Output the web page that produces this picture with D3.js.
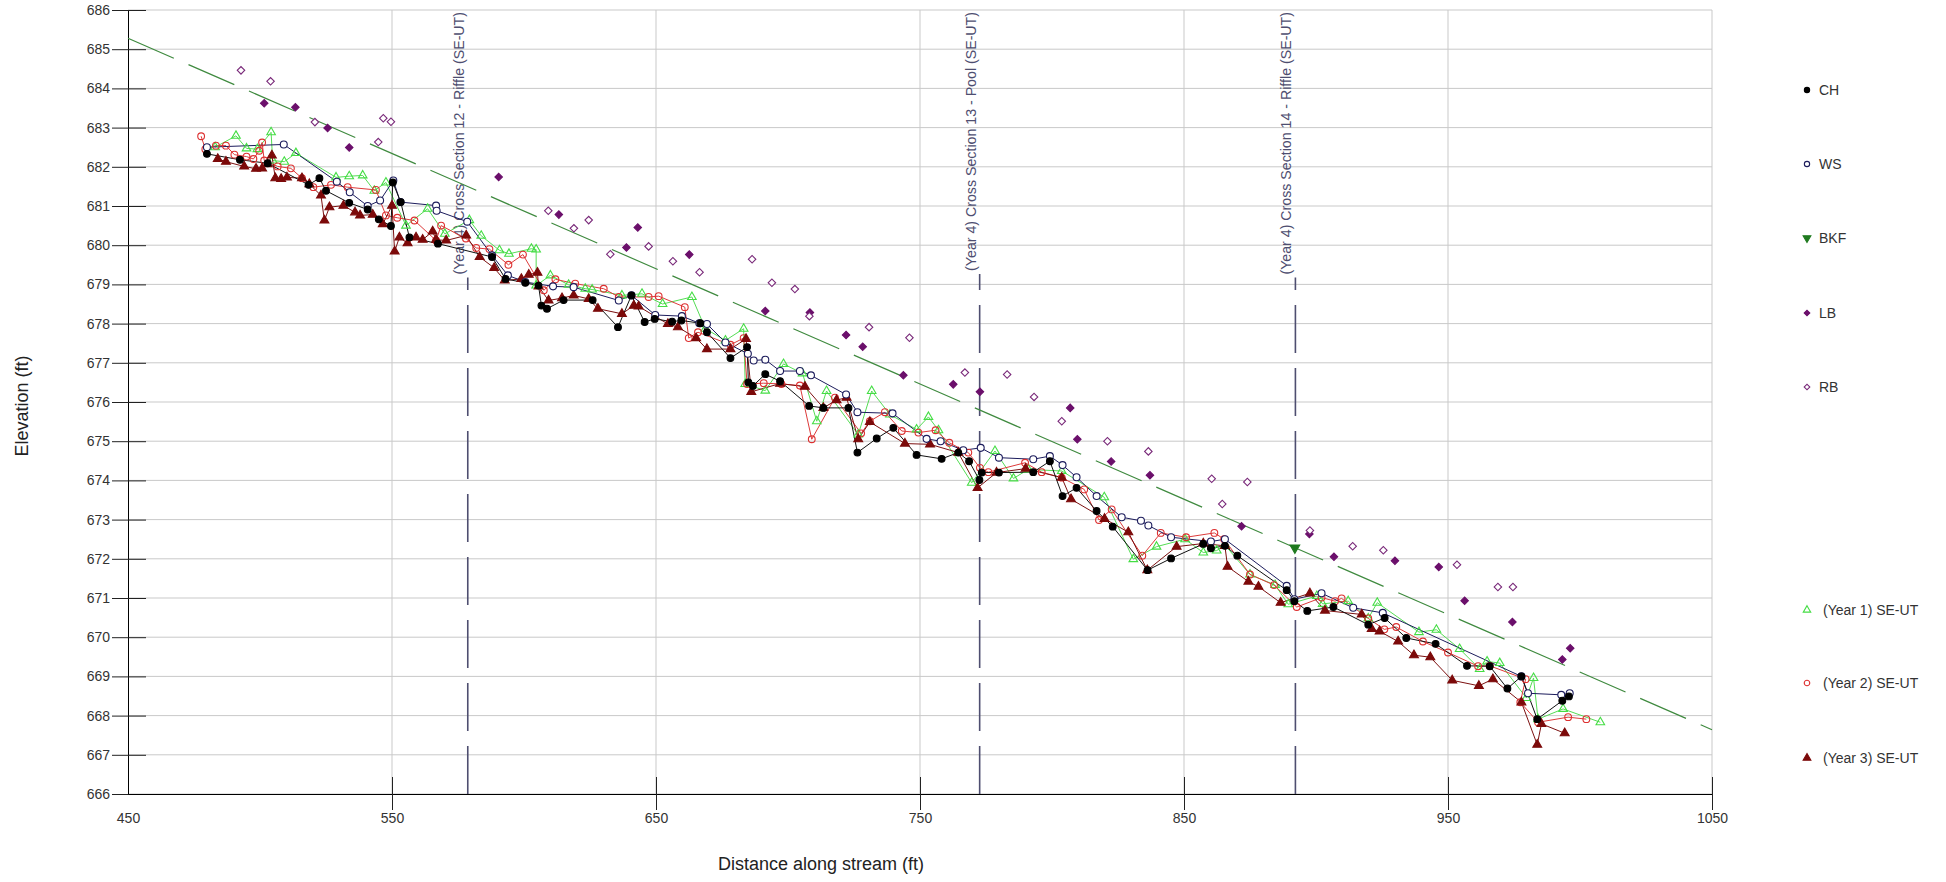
<!DOCTYPE html>
<html>
<head>
<meta charset="utf-8">
<script src="https://cdnjs.cloudflare.com/ajax/libs/d3/7.8.5/d3.min.js"></script>
<style>
body { margin: 0; background: #fff; }
svg { display: block; font-family: "Liberation Sans", Arial, sans-serif; }
</style>
</head>
<body>
<svg id="chart" width="1946" height="882"></svg>
<script>
// station (ft) / elevation (ft) pairs
var ch = [[479.9,682.33],[492.4,682.18],[502.9,682.09],[518.4,681.54],[522.5,681.71],[525,681.39],[533.8,681.08],[540.8,680.91],[545,680.66],[549.6,680.49],[550.3,681.6],[553.3,681.1],[556.6,680.2],[567.4,680.04],[587.9,679.7],[593,679.14],[600.5,679.04],[605.5,678.97],[606.6,678.46],[608.7,678.38],[615,678.6],[626,678.6],[635.6,677.91],[640.7,678.72],[645.7,678.04],[649.5,678.12],[656.1,678.05],[659.6,678.08],[666.8,678.01],[669.3,677.78],[678.2,677.12],[684.5,677.4],[685,676.5],[686.7,676.41],[691.4,676.71],[697,676.53],[708,675.9],[713.4,675.85],[722.9,675.85],[726.3,674.71],[733.6,675.07],[739.9,675.34],[748.7,674.65],[758.2,674.55],[764.5,674.71],[768.6,674.49],[772.5,674.01],[773.4,674.2],[779.9,674.2],[792.9,674.21],[799.2,674.49],[804,673.6],[809.3,673.81],[816.9,673.22],[823,672.82],[836.2,671.71],[845.1,672.01],[857.3,672.38],[860.2,672.27],[865.5,672.33],[870.2,672.08],[888.9,671.2],[891.8,670.92],[896.7,670.67],[906.6,670.77],[919.8,670.32],[926,670.49],[934.2,669.98],[945.3,669.83],[957.2,669.27],[965.8,669.26],[972.5,668.69],[977.8,669.0],[983.8,667.91],[993.3,668.38],[995.8,668.49]];

var ws = [[479.9,682.5],[509,682.57],[529.1,681.62],[534,681.35],[540.8,681.0],[545.5,681.14],[550.5,681.65],[553.2,681.1],[566.7,681.01],[566.9,680.88],[578.5,680.6],[587.9,679.74],[593.9,679.23],[600.5,679.06],[611,678.95],[618.8,678.93],[635.9,678.59],[640.7,678.72],[649.7,678.22],[659.8,678.19],[666.4,678.01],[669.3,677.99],[676.3,677.52],[684.8,677.23],[687,677.06],[691.4,677.08],[697,676.79],[704.5,676.79],[708.7,676.68],[722,676.19],[726.3,675.74],[739.6,675.71],[752.5,675.06],[757.8,675.0],[766.4,674.77],[773,674.83],[779.9,674.58],[792.9,674.54],[799.2,674.62],[804,674.39],[809.3,674.08],[816.9,673.6],[826.4,673.06],[833.7,672.97],[836.5,672.85],[845.1,672.55],[860.2,672.44],[865.5,672.5],[888.9,671.31],[891.8,670.97],[902.1,671.12],[914.1,670.75],[925.3,670.62],[977.8,669.0],[980.3,668.57],[992.9,668.53],[996.1,668.57]];

var bkfLine = [[450,685.28],[1050,667.64]];
var bkfPts = [[892,672.28]];

var lb = [[501.6,683.62],[513.4,683.52],[525.6,682.99],[533.8,682.49],[590.4,681.74],[613.2,680.78],[638.8,679.94],[643.1,680.45],[662.6,679.76],[691.4,678.32],[708.3,678.28],[722,677.71],[728.3,677.41],[743.7,676.68],[762.6,676.45],[772.7,676.26],[806.9,675.85],[809.6,675.05],[822.4,674.48],[837.1,674.13],[871.8,672.83],[897.5,672.63],[906.8,672.05],[929.9,671.95],[946.5,671.79],[956.3,670.93],[974.4,670.39],[993.3,669.43],[996.3,669.72]];

var rb = [[492.8,684.46],[504,684.18],[520.8,683.14],[544.8,682.63],[546.7,683.24],[549.6,683.15],[609.2,680.88],[618.9,680.43],[624.5,680.64],[632.7,679.77],[647.2,679.97],[656.4,679.59],[666.5,679.31],[686.4,679.64],[693.9,679.04],[702.6,678.88],[708.1,678.19],[730.7,677.91],[746,677.64],[767,676.75],[783,676.7],[793.2,676.13],[803.7,675.51],[821,675],[836.5,674.74],[860.5,674.04],[864.5,673.4],[874,673.96],[897.7,672.72],[913.9,672.32],[925.5,672.22],[953.4,671.85],[968.9,671.28],[974.6,671.28]];

var year1 = [[483,682.5],[490.9,682.79],[494.9,682.47],[499,682.45],[504.2,682.88],[504.8,682.16],[509.2,682.13],[513.6,682.35],[528.8,681.73],[533.8,681.76],[538.9,681.78],[543.3,681.39],[547.7,681.6],[555.3,680.5],[563.5,680.93],[570,680.29],[579.3,680.64],[583.8,680.24],[590.7,679.87],[594.3,679.78],[602.8,679.91],[604.6,679.89],[604.6,678.97],[610,679.23],[616.9,678.99],[623.2,678.89],[625.8,678.87],[637.1,678.72],[644.7,678.76],[652.5,678.5],[663.6,678.68],[668.7,677.87],[676.3,677.57],[683.2,677.87],[683.8,676.46],[691.4,676.29],[698.3,676.97],[705.5,676.73],[710.9,675.51],[714.6,676.28],[726.6,675.17],[731.7,676.28],[738.6,675.68],[748.7,675.3],[753.2,675.62],[757,675.28],[769.6,673.94],[778.4,674.75],[785.4,674.05],[791,674.28],[803.7,674.24],[819.8,673.57],[830.8,671.99],[839.6,672.31],[850.4,672.5],[857.3,672.16],[862.4,672.21],[865.5,672.35],[875,671.6],[884.5,671.33],[889.5,670.84],[900.3,671.05],[902.5,670.85],[912.2,670.92],[919.8,670.48],[923.2,670.88],[939,670.13],[945.6,670.19],[954.4,669.7],[962,669.19],[964.8,669.38],[969.6,669.34],[979.7,668.45],[982.4,668.96],[984.1,667.91],[993.6,668.17],[1007.7,667.83]];

var year2 = [[477.7,682.78],[479.3,682.45],[483.3,682.54],[487.1,682.54],[490.3,682.31],[494.9,682.26],[497.5,682.2],[499.7,682.41],[500.8,682.62],[501.6,682.16],[506.7,682.01],[511.7,681.96],[515.9,681.71],[520.2,681.48],[526.9,681.54],[533.2,681.48],[543.9,681.41],[547.7,680.76],[552,680.7],[558.5,680.63],[566.7,680.12],[568.6,680.5],[578,680.17],[581.9,679.93],[586.9,679.9],[594.1,679.5],[599.6,679.76],[607.5,678.85],[611.9,679.13],[619.4,679.02],[630.2,678.89],[635.9,678.68],[647.2,678.68],[651,678.7],[660.9,678.42],[662.4,677.63],[665.9,677.78],[678.2,677.46],[683.2,677.63],[684.5,676.46],[690.8,676.48],[697.5,676.46],[704.5,676.42],[709,675.05],[717.8,676.11],[727.7,675.2],[731,675.51],[736.7,675.74],[743.1,675.26],[749.4,675.22],[755.9,675.28],[761.1,674.96],[768.3,674.71],[772.7,674.32],[775.9,674.21],[789.8,674.45],[796.1,674.21],[803.7,674.07],[812.2,673.77],[817.8,672.99],[822.6,673.26],[834.2,672.08],[841.2,672.66],[850.8,672.55],[861.5,672.66],[865.2,672.5],[875,671.6],[884.1,671.33],[892.7,670.77],[902.1,671.01],[907.2,670.92],[909.7,670.99],[919.8,670.48],[925.9,670.2],[930.4,670.26],[940.5,669.89],[950,669.61],[961.4,669.26],[965.8,669.27],[979.4,668.93],[977.4,668.34],[984.1,667.83],[995.5,667.96],[1002.4,667.91]];

var year3 = [[484,682.2],[487.1,682.13],[494,682.01],[498.5,681.95],[500.8,681.96],[502.9,682.07],[504.5,682.29],[505.8,681.71],[508,681.69],[510.2,681.73],[515.9,681.71],[518.7,681.56],[523.1,681.27],[524.4,680.63],[526.3,680.97],[531.6,681.01],[536,680.84],[537.9,680.76],[542.7,680.78],[546.5,680.54],[550,681.01],[551,679.84],[552.8,680.2],[555.9,680.05],[559.1,680.2],[561.6,680.14],[565.4,680.35],[566.7,680.14],[570.5,680.12],[578.1,680.25],[583.2,679.7],[588.7,679.42],[592.7,679.1],[599,679.14],[601.8,679.25],[605.1,679.3],[605.5,678.95],[609.3,678.59],[614.4,678.65],[618.8,678.72],[624.5,678.63],[628,678.38],[637.1,678.25],[641.6,678.46],[643.4,678.44],[654.5,677.99],[658.3,677.91],[665.2,677.63],[669.3,677.35],[678.2,677.35],[684.1,677.61],[686.1,676.26],[697,676.47],[706.4,676.39],[713.4,675.85],[718.4,676.05],[722.2,676.11],[726.6,675.05],[731,675.49],[744.3,674.94],[753.8,674.92],[764.5,674.71],[771.8,673.81],[779,674.2],[790,674.3],[803.7,674.07],[807.2,673.52],[819.9,673.02],[828.9,672.68],[836.1,671.71],[847.2,672.31],[857.3,672.39],[865.5,672.33],[866.5,671.8],[874.4,671.42],[878.2,671.29],[886.6,670.88],[897.7,671.12],[903.4,670.68],[917.3,670.58],[921.1,670.21],[924.1,670.15],[931.1,669.89],[937.1,669.54],[943.3,669.49],[951.6,668.9],[961.7,668.76],[967,668.93],[977.8,668.34],[983.8,667.26],[985.4,667.79],[994.2,667.55]];

var sections = [
	{ x: 578.7, label: "(Year 4) Cross Section 12 - Riffle (SE-UT)" },
	{ x: 772.6, label: "(Year 4) Cross Section 13 - Pool (SE-UT)" },
	{ x: 892.2, label: "(Year 4) Cross Section 14 - Riffle (SE-UT)" }
];

var xTicks = [450, 550, 650, 750, 850, 950, 1050];
var yTicks = d3.range(666, 687);

var margin = { top: 10, right: 234, bottom: 88, left: 128 };
var width = 1946, height = 882;
var svg = d3.select("#chart");

var x = d3.scaleLinear().domain([450, 1050]).range([margin.left, width - margin.right]);
var y = d3.scaleLinear().domain([666, 686]).range([height - margin.bottom, margin.top]);

// grid
svg.append("g").selectAll("line").data(yTicks).enter().append("line")
	.attr("x1", x(450)).attr("x2", x(1050))
	.attr("y1", function(d) { return y(d); }).attr("y2", function(d) { return y(d); })
	.attr("stroke", "#c9c9c9").attr("stroke-width", 1);
svg.append("g").selectAll("line").data(xTicks.slice(1)).enter().append("line")
	.attr("x1", function(d) { return x(d); }).attr("x2", function(d) { return x(d); })
	.attr("y1", y(686)).attr("y2", y(666))
	.attr("stroke", "#c9c9c9").attr("stroke-width", 1);

// axes
var yAxis = svg.append("g")
	.attr("transform", "translate(" + x(450) + ",0)")
	.call(d3.axisLeft(y).tickValues(yTicks).tickFormat(d3.format("d")).tickSize(0));
yAxis.select(".domain").attr("stroke", "#000");
yAxis.selectAll(".tick line").attr("x1", -16).attr("x2", 18).attr("stroke", "#222");
yAxis.selectAll(".tick text").attr("x", -18).attr("font-size", 14).attr("fill", "#333")
	.attr("font-family", "Liberation Sans, Arial, sans-serif");

var xAxis = svg.append("g")
	.attr("transform", "translate(0," + y(666) + ")")
	.call(d3.axisBottom(x).tickValues(xTicks).tickFormat(d3.format("d")).tickSize(0));
xAxis.select(".domain").attr("stroke", "#000");
xAxis.selectAll(".tick line").attr("y1", function(d) { return d == 450 ? 0 : -17; })
	.attr("y2", function(d) { return d == 450 ? 0 : 16; }).attr("stroke", "#222");
xAxis.selectAll(".tick text").attr("y", 19).attr("font-size", 14).attr("fill", "#333")
	.attr("font-family", "Liberation Sans, Arial, sans-serif");

// cross section markers
var secG = svg.append("g");
sections.forEach(function(s) {
	var sx = x(s.x);
	var t = secG.append("text")
		.attr("transform", "translate(" + (sx - 4) + "," + (margin.top + 2) + ") rotate(-90)")
		.attr("text-anchor", "end")
		.attr("font-size", 14.2)
		.attr("fill", "#4e4e70")
		.text(s.label);
	var len = t.node().getComputedTextLength();
	secG.append("line")
		.attr("x1", sx).attr("x2", sx)
		.attr("y1", y(666)).attr("y2", margin.top + 2 + len + 3)
		.attr("stroke", "#4e4e70").attr("stroke-width", 1.6)
		.attr("stroke-dasharray", "48,15");
});

var line = d3.line()
	.x(function(d) { return x(d[0]); })
	.y(function(d) { return y(d[1]); });

// BKF
svg.append("path").datum(bkfLine)
	.attr("d", line).attr("fill", "none")
	.attr("stroke", "#3f8a3f").attr("stroke-width", 1.2)
	.attr("stroke-dasharray", "50,16");

var lineSeries = [
	{ data: year1, color: "#55dd55" },
	{ data: year2, color: "#dd3b3b" },
	{ data: year3, color: "#7c1010" },
	{ data: ws, color: "#1c1c5c" },
	{ data: ch, color: "#111" }
];
lineSeries.forEach(function(s) {
	svg.append("path").datum(s.data)
		.attr("d", line).attr("fill", "none")
		.attr("stroke", s.color).attr("stroke-width", 1);
});

function drawMarks(data, type, size, fill, stroke, rot) {
	svg.append("g").selectAll("path").data(data).enter().append("path")
		.attr("d", d3.symbol().type(type).size(size))
		.attr("transform", function(d) { return "translate(" + x(d[0]) + "," + y(d[1]) + ")" + (rot ? " rotate(" + rot + ")" : ""); })
		.attr("fill", fill).attr("stroke", stroke).attr("stroke-width", 1.1);
}

drawMarks(lb, d3.symbolSquare, 28, "#6b0f6b", "#6b0f6b", 45);
drawMarks(rb, d3.symbolSquare, 28, "#fff", "#7a2a7a", 45);
drawMarks(year1, d3.symbolTriangle, 32, "none", "#44dd44");
drawMarks(year2, d3.symbolCircle, 36, "none", "#dd3030");
drawMarks(year3, d3.symbolTriangle, 34, "#7c0a0a", "#7c0a0a");
drawMarks(ws, d3.symbolCircle, 38, "#fff", "#1c1c5c");
drawMarks(ch, d3.symbolCircle, 36, "#000", "#000");
drawMarks(bkfPts, d3.symbolTriangle, 40, "#1f7a1f", "#1f7a1f", 180);

// legend
var legend = [
	{ name: "CH", y: 90, type: d3.symbolCircle, size: 22, fill: "#000", stroke: "#000" },
	{ name: "WS", y: 164, type: d3.symbolCircle, size: 22, fill: "#fff", stroke: "#1c1c5c" },
	{ name: "BKF", y: 238, type: d3.symbolTriangle, size: 26, fill: "#1f7a1f", stroke: "#1f7a1f", rot: 180 },
	{ name: "LB", y: 313, type: d3.symbolSquare, size: 16, fill: "#6b0f6b", stroke: "#6b0f6b", rot: 45 },
	{ name: "RB", y: 387, type: d3.symbolSquare, size: 16, fill: "#fff", stroke: "#7a2a7a", rot: 45 },
	{ name: "(Year 1) SE-UT", y: 610, type: d3.symbolTriangle, size: 24, fill: "none", stroke: "#44dd44" },
	{ name: "(Year 2) SE-UT", y: 683, type: d3.symbolCircle, size: 24, fill: "none", stroke: "#dd3030" },
	{ name: "(Year 3) SE-UT", y: 758, type: d3.symbolTriangle, size: 26, fill: "#7c0a0a", stroke: "#7c0a0a" }
];
var lg = svg.append("g").selectAll("g").data(legend).enter().append("g")
	.attr("transform", function(d) { return "translate(1807," + d.y + ")"; });
lg.append("path")
	.attr("d", function(d) { return d3.symbol().type(d.type).size(d.size)(); })
	.attr("transform", function(d) { return d.rot ? "rotate(" + d.rot + ")" : null; })
	.attr("fill", function(d) { return d.fill; })
	.attr("stroke", function(d) { return d.stroke; }).attr("stroke-width", 1.1);
lg.append("text")
	.attr("x", function(d) { return d.name.length > 3 ? 16 : 12; })
	.attr("dy", "0.36em")
	.attr("font-size", 14).attr("fill", "#333")
	.text(function(d) { return d.name; });

// axis titles
svg.append("text")
	.attr("transform", "translate(28,406) rotate(-90)")
	.attr("text-anchor", "middle").attr("font-size", 18).attr("fill", "#222")
	.text("Elevation (ft)");
svg.append("text")
	.attr("x", 821).attr("y", 870)
	.attr("text-anchor", "middle").attr("font-size", 18).attr("fill", "#222")
	.text("Distance along stream (ft)");
</script>
</body>
</html>
